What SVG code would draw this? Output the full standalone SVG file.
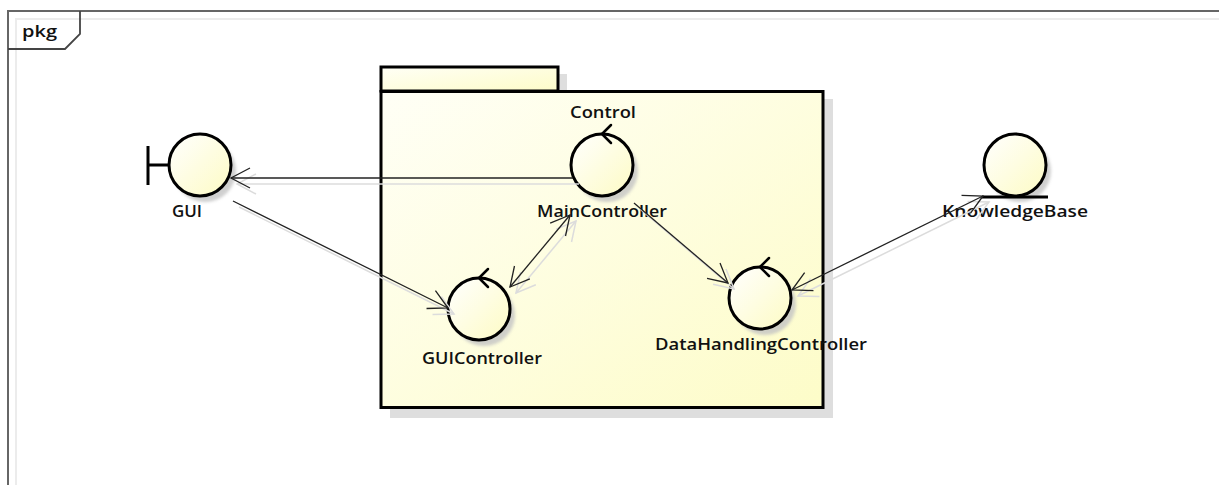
<svg xmlns="http://www.w3.org/2000/svg" width="1219" height="485" viewBox="0 0 1219 485">
  <style>
    .frame { fill: none; stroke: #666; stroke-width: 2; }
    .frame-inner { fill: none; stroke: #ececec; stroke-width: 2; }
    .label { font-family: "Open Sans", "DejaVu Sans", sans-serif; font-weight: 600; font-size: 17px; fill: #111; text-anchor: middle; }
    .node { fill: url(#nodeFill); stroke: #000; stroke-width: 3; }
    .shade { fill: #c4c4c4; opacity: 0.8; filter: url(#soft); }
    .mark { fill: none; stroke: #000; stroke-width: 2.5; stroke-linecap: round; stroke-linejoin: round; }
    .pkg { fill: url(#pkgFill); stroke: #000; stroke-width: 3; }
    .pkg-shade { fill: #dedede; }
    .edge { fill: none; stroke: #222; stroke-width: 1.3; }
    .edge-shade { fill: none; stroke: #dcdcdc; stroke-width: 1.5; }
  </style>
  <defs>
    <linearGradient id="nodeFill" x1="0" y1="0" x2="1" y2="1">
      <stop offset="0" stop-color="#ffffff"/>
      <stop offset="1" stop-color="#fdfbc4"/>
    </linearGradient>
    <linearGradient id="pkgFill" x1="0" y1="0" x2="1" y2="1">
      <stop offset="0" stop-color="#fffff6"/>
      <stop offset="1" stop-color="#fdfcc8"/>
    </linearGradient>
    <filter id="soft" x="-20%" y="-20%" width="140%" height="140%">
      <feGaussianBlur stdDeviation="1.5"/>
    </filter>
    <marker id="open" markerUnits="userSpaceOnUse" markerWidth="24" markerHeight="26" viewBox="-21 -13 24 26" refX="0" refY="0" orient="auto-start-reverse">
      <path d="M-19,-10 L0,0 L-19,10" fill="none" stroke="#222" stroke-width="1.3"/>
    </marker>
    <marker id="openShade" markerUnits="userSpaceOnUse" markerWidth="24" markerHeight="26" viewBox="-21 -13 24 26" refX="0" refY="0" orient="auto-start-reverse">
      <path d="M-19,-10 L0,0 L-19,10" fill="none" stroke="#dcdcdc" stroke-width="1.5"/>
    </marker>
  </defs>

  <rect x="0" y="0" width="1219" height="485" fill="#fff"/>

  <!-- diagram frame with its name tab -->
  <g id="frame">
    <path class="frame-inner" d="M16,485 V19 H1219"/>
    <path class="frame" d="M8,485 V11 H1219"/>
    <path d="M8,49 H65 L80,34 V11" fill="none" stroke="#444" stroke-width="1.8"/>
    <text x="39.5" y="37" class="label" textLength="35" lengthAdjust="spacingAndGlyphs">pkg</text>
  </g>

  <!-- package "Control" -->
  <g id="pkg-control">
    <rect class="pkg-shade" x="389" y="74" width="178" height="24"/>
    <rect class="pkg-shade" x="390" y="99" width="443" height="319"/>
    <rect class="pkg" x="381" y="67" width="177" height="24"/>
    <rect class="pkg" x="381" y="91.5" width="442" height="316"/>
    <text x="603" y="118" class="label" textLength="66" lengthAdjust="spacingAndGlyphs">Control</text>
  </g>

  <!-- boundary: GUI -->
  <g id="node-gui">
    <circle class="shade" cx="205" cy="171" r="31"/>
    <path d="M148,146 V185 M148,165 H169" fill="none" stroke="#000" stroke-width="3"/>
    <circle class="node" cx="200" cy="165" r="31"/>
    <text x="187" y="217" class="label" textLength="30" lengthAdjust="spacingAndGlyphs">GUI</text>
  </g>

  <!-- control: MainController -->
  <g id="node-main">
    <circle class="shade" cx="607" cy="171" r="31"/>
    <circle class="node" cx="602" cy="165" r="31"/>
    <path class="mark" d="M611,125 L602,134 L611,143"/>
    <text x="602" y="217" class="label" textLength="130" lengthAdjust="spacingAndGlyphs">MainController</text>
  </g>

  <!-- control: GUIController -->
  <g id="node-guictrl">
    <circle class="shade" cx="484" cy="315" r="31"/>
    <circle class="node" cx="479" cy="309" r="31"/>
    <path class="mark" d="M488,269 L479,278 L488,287"/>
    <text x="482" y="364" class="label" textLength="120" lengthAdjust="spacingAndGlyphs">GUIController</text>
  </g>

  <!-- control: DataHandlingController -->
  <g id="node-data">
    <circle class="shade" cx="765" cy="304" r="31"/>
    <circle class="node" cx="760" cy="298" r="31"/>
    <path class="mark" d="M769,258 L760,267 L769,276"/>
    <text x="761" y="350" class="label" textLength="212" lengthAdjust="spacingAndGlyphs">DataHandlingController</text>
  </g>

  <!-- entity: KnowledgeBase -->
  <g id="node-kb">
    <circle class="shade" cx="1020" cy="171" r="31"/>
    <circle class="node" cx="1015" cy="165" r="31"/>
    <path d="M982,197 H1048" fill="none" stroke="#000" stroke-width="3"/>
    <text x="1015" y="217" class="label" textLength="146" lengthAdjust="spacingAndGlyphs">KnowledgeBase</text>
  </g>

  <!-- connectors -->
  <g id="connectors">
    <g transform="translate(6,6)">
      <path class="edge-shade" d="M573,178 L231,178" marker-end="url(#openShade)"/>
      <path class="edge-shade" d="M233,201 L448,308" marker-end="url(#openShade)"/>
      <path class="edge-shade" d="M510,287 L570,215" marker-start="url(#openShade)" marker-end="url(#openShade)"/>
      <path class="edge-shade" d="M634,203 L728,283" marker-end="url(#openShade)"/>
      <path class="edge-shade" d="M792,290 L983,196" marker-start="url(#openShade)" marker-end="url(#openShade)"/>
    </g>
    <path class="edge" d="M573,178 L231,178" marker-end="url(#open)"/>
    <path class="edge" d="M233,201 L448,308" marker-end="url(#open)"/>
    <path class="edge" d="M510,287 L570,215" marker-start="url(#open)" marker-end="url(#open)"/>
    <path class="edge" d="M634,203 L728,283" marker-end="url(#open)"/>
    <path class="edge" d="M792,290 L983,196" marker-start="url(#open)" marker-end="url(#open)"/>
  </g>
</svg>
